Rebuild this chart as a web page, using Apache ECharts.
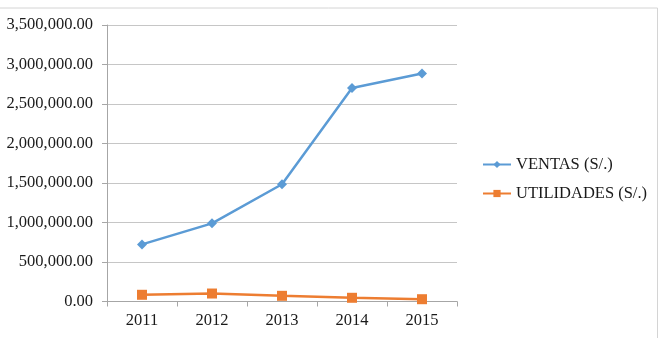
<!DOCTYPE html>
<html>
<head>
<meta charset="utf-8">
<script src="https://cdn.jsdelivr.net/npm/echarts@6/dist/echarts.min.js"></script>
<style>
  html, body { margin: 0; padding: 0; background: #fff; }
  #box1 { width: 660px; height: 338px; }
</style>
</head>
<body>
<div id="box1"></div>
<script>
let years = ['2011', '2012', '2013', '2014', '2015'];
let ventas = [723000, 989000, 1484000, 2703000, 2885000];
let utilidades = [85000, 101000, 72000, 47000, 29000];
let seriesNames = ['VENTAS (S/.)', 'UTILIDADES (S/.)'];

function money(v) {
    let s = Math.abs(v).toFixed(2);
    let parts = s.split('.');
    parts[0] = parts[0].replace(/\B(?=(\d{3})+(?!\d))/g, ',');
    return parts.join('.');
}

let box1 = document.querySelector('#box1');
let myChart1 = echarts.init(box1);
let font = 'Liberation Serif';
let option1 = {
    animation: false,
    backgroundColor: '#fff',
    graphic: [
        {
            type: 'rect',
            shape: { x: -2, y: 8, width: 659.5, height: 340 },
            style: { fill: 'none', stroke: '#d4d4d4', lineWidth: 1 },
            silent: true
        }
    ],
    grid: {
        left: 107,
        right: 203,
        top: 25,
        bottom: 36.5
    },
    legend: {
        orient: 'vertical',
        left: 477,
        top: 151,
        itemWidth: 28,
        itemHeight: 9,
        itemGap: 12,
        textStyle: {
            fontFamily: font,
            fontSize: 16.5,
            color: '#1a1a1a'
        },
        data: seriesNames
    },
    xAxis: {
        type: 'category',
        data: years,
        boundaryGap: true,
        axisLine: { lineStyle: { color: '#a6a6a6', width: 1 } },
        axisTick: { show: true, length: 5, lineStyle: { color: '#a6a6a6' } },
        axisLabel: {
            margin: 11,
            fontFamily: font,
            fontSize: 16.5,
            color: '#1a1a1a'
        },
        splitLine: { show: false }
    },
    yAxis: {
        type: 'value',
        min: 0,
        max: 3500000,
        interval: 500000,
        axisLine: { show: true, lineStyle: { color: '#a6a6a6', width: 1 } },
        axisTick: { show: true, length: 5, lineStyle: { color: '#a6a6a6' } },
        axisLabel: {
            margin: 14,
            fontFamily: font,
            fontSize: 16.5,
            color: '#1a1a1a',
            formatter: money
        },
        splitLine: { lineStyle: { color: '#c6c6c6', width: 1 } }
    },
    series: [
        {
            name: seriesNames[0],
            type: 'line',
            data: ventas,
            symbol: 'diamond',
            symbolSize: 10,
            showAllSymbol: true,
            itemStyle: { color: '#5b9bd5' },
            lineStyle: { color: '#5b9bd5', width: 2.5 }
        },
        {
            name: seriesNames[1],
            type: 'line',
            data: utilidades,
            symbol: 'rect',
            symbolSize: 10,
            showAllSymbol: true,
            itemStyle: { color: '#ed7d31' },
            lineStyle: { color: '#ed7d31', width: 2.5 }
        }
    ]
};
myChart1.setOption(option1);
</script>
</body>
</html>
